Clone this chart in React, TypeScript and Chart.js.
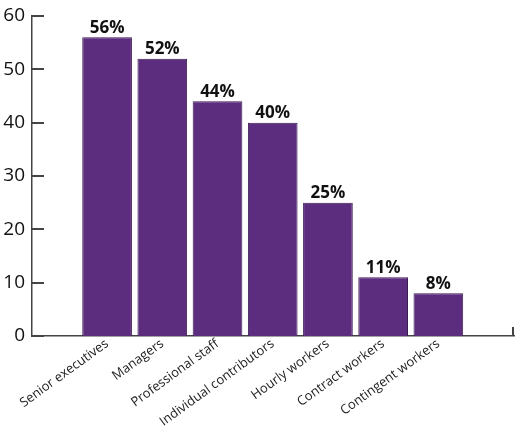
import React, { useEffect, useRef } from "react";
import { Chart, registerables } from "chart.js";

Chart.register(...registerables);

const CATEGORIES = [
  "Senior executives",
  "Managers",
  "Professional staff",
  "Individual contributors",
  "Hourly workers",
  "Contract workers",
  "Contingent workers",
];
const VALUES = [56, 52, 44, 40, 25, 11, 8];
const Y_TICKS = [0, 10, 20, 30, 40, 50, 60];

const BAR_FILL = "#5c2d7e";
const BAR_BORDER = "#3a1a50";
const AXIS_COLOR = "#444444";
const FONT = "'Open Sans', 'Noto Sans', sans-serif";

const decorPlugin = {
  id: "decor",
  afterDraw(chart: any) {
    const ctx = chart.ctx as CanvasRenderingContext2D;
    const yScale = chart.scales.y;
    const area = chart.chartArea;
    ctx.save();
    ctx.globalAlpha = 1;
    ctx.setLineDash([]);
    ctx.fillStyle = AXIS_COLOR;
    const left = Math.round(area.left) - 1;
    // inward y ticks
    Y_TICKS.forEach((v) => {
      const py = Math.round(yScale.getPixelForValue(v));
      ctx.fillRect(left, py - 1, 13, 2);
    });
    // right end tick of x axis
    const bottom = Math.round(area.bottom);
    ctx.fillRect(Math.round(area.right) - 2, bottom - 9, 2, 9);
    // value labels
    const meta = chart.getDatasetMeta(0);
    ctx.fillStyle = "#111";
    ctx.font = `bold 17px ${FONT}`;
    ctx.textAlign = "center";
    ctx.textBaseline = "bottom";
    meta.data.forEach((bar: any, i: number) => {
      ctx.fillText(`${VALUES[i]}%`, bar.x, bar.y - 1);
    });
    ctx.restore();
  },
};

export default function App() {
  const ref = useRef<HTMLCanvasElement | null>(null);

  useEffect(() => {
    document.body.style.margin = "0";
    const canvas = ref.current;
    if (!canvas) return;
    const chart = new Chart(canvas, {
      type: "bar",
      data: {
        datasets: [
          {
            data: VALUES.map((v, i) => ({ x: i, y: v })),
            backgroundColor: BAR_FILL,
            borderColor: BAR_BORDER,
            borderWidth: 1,
            categoryPercentage: 1,
            barPercentage: 0.9,
          },
        ],
      },
      options: {
        animation: false,
        responsive: false,
        maintainAspectRatio: false,
        layout: { padding: { top: 16, right: 7, left: 0, bottom: 0 } },
        plugins: {
          legend: { display: false },
          tooltip: { enabled: false },
        },
        scales: {
          x: {
            type: "linear",
            min: -1.36,
            max: 6 + 1.37,
            offset: false,
            afterBuildTicks: (axis: any) => {
              axis.ticks = CATEGORIES.map((_, i) => ({ value: i }));
            },
            afterFit: (scale: any) => {
              scale.height = 94;
            },
            grid: { display: false },
            border: { display: true, color: AXIS_COLOR, width: 1.5 },
            ticks: {
              autoSkip: false,
              minRotation: 36,
              maxRotation: 36,
              padding: -8,
              color: "#222",
              font: { family: FONT, size: 13 },
              callback: (v: any) => CATEGORIES[v] ?? "",
            },
          },
          y: {
            min: 0,
            max: 60,
            afterBuildTicks: (axis: any) => {
              axis.ticks = Y_TICKS.map((v) => ({ value: v }));
            },
            afterFit: (scale: any) => {
              scale.width = 32;
              scale.paddingTop = 0;
              scale.paddingBottom = 0;
            },
            grid: { display: false, drawTicks: false },
            border: { display: true, color: AXIS_COLOR, width: 1.5 },
            ticks: {
              padding: 7,
              color: "#111",
              font: { family: FONT, size: 19 },
            },
          },
        },
      },
      plugins: [decorPlugin],
    } as any);
    return () => chart.destroy();
  }, []);

  return (
    <div style={{ width: 521, height: 430 }}>
      <canvas ref={ref} width={521} height={430} />
    </div>
  );
}
